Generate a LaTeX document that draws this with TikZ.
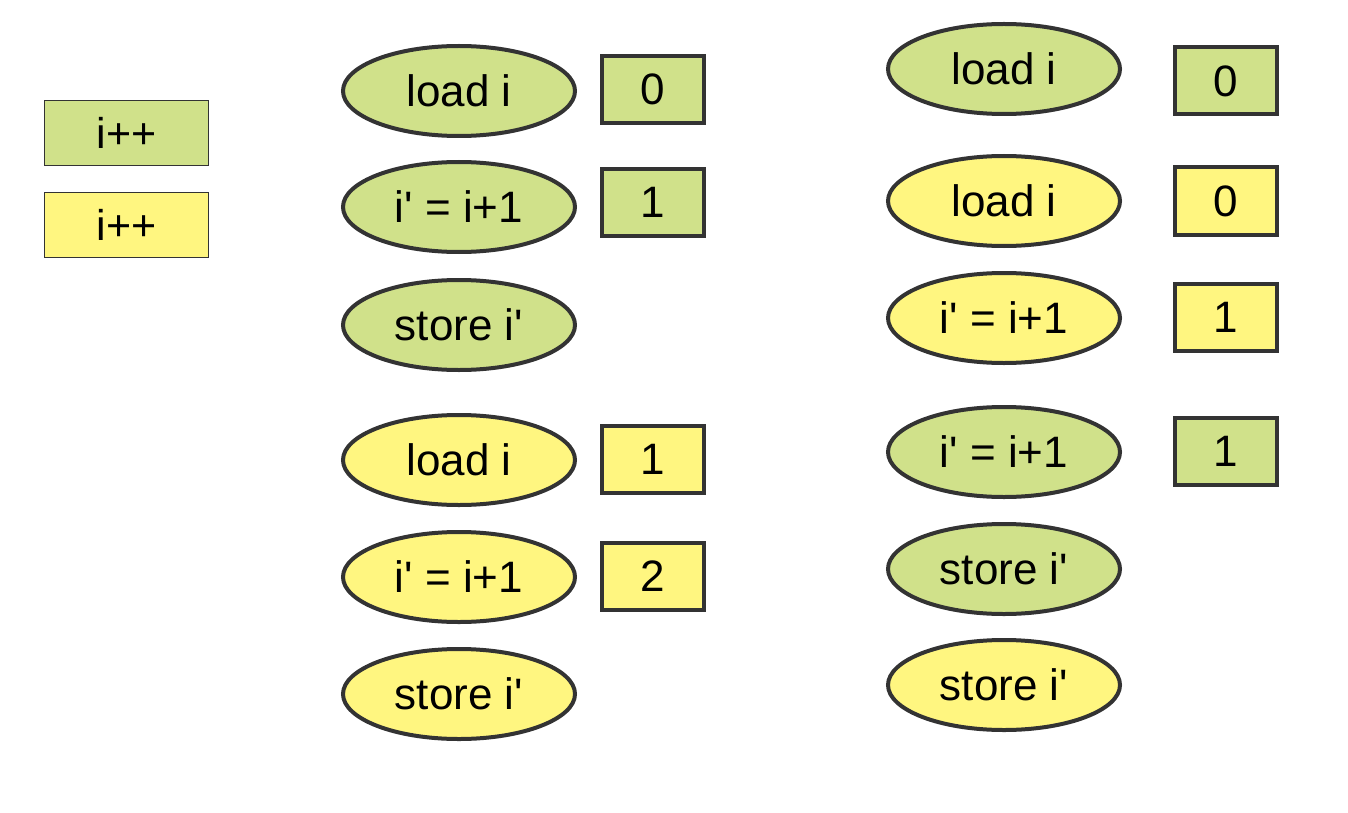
\documentclass[tikz,border=0pt]{standalone}
\usepackage{fontspec}
\setmainfont{Liberation Sans}
\usetikzlibrary{shapes.geometric}
\definecolor{gfill}{RGB}{208,225,138}
\definecolor{yfill}{RGB}{255,246,128}
\definecolor{edge}{RGB}{51,51,51}
\newcommand{\q}{\textquotesingle}
\tikzset{
  op/.style={ellipse, draw=edge, line width=4pt, minimum width=232pt, minimum height=90pt, inner sep=0pt, font=\fontsize{44}{48}\selectfont},
  val/.style={rectangle, draw=edge, line width=4pt, minimum width=102pt, minimum height=67pt, inner sep=0pt, font=\fontsize{44}{48}\selectfont},
  legend/.style={rectangle, draw=edge, line width=1.8pt, minimum width=164pt, minimum height=65pt, inner sep=0pt, font=\fontsize{43}{46}\selectfont},
  gr/.style={fill=gfill},
  ye/.style={fill=yfill}
}
\begin{document}
\begin{tikzpicture}[x=1pt,y=-1pt]
\useasboundingbox (0,0) rectangle (1348,813);
% legend
\node[legend,gr] (lg) at (126.5,133) {i++};
\node[legend,ye] (ly) at (126.5,225) {i++};
% middle column
\node[op,gr] (m1) at (459,91) {load i};
\node[op,gr] (m2) at (459,207) {i\q{} = i+1};
\node[op,gr] (m3) at (459,325) {store i\q};
\node[op,ye] (m4) at (459,460) {load i};
\node[op,ye] (m5) at (459,577) {i\q{} = i+1};
\node[op,ye] (m6) at (459,694) {store i\q};
\node[val,gr] (v1) at (653,89.5) {0};
\node[val,gr] (v2) at (653,202.5) {1};
\node[val,ye] (v3) at (653,459.5) {1};
\node[val,ye] (v4) at (653,576.5) {2};
% right column
\node[op,gr] (r1) at (1004,69) {load i};
\node[op,ye] (r2) at (1004,201) {load i};
\node[op,ye] (r3) at (1004,318) {i\q{} = i+1};
\node[op,gr] (r4) at (1004,452) {i\q{} = i+1};
\node[op,gr] (r5) at (1004,569) {store i\q};
\node[op,ye] (r6) at (1004,685) {store i\q};
\node[val,gr] (w1) at (1225.5,81) {0};
\node[val,ye] (w2) at (1225.5,201) {0};
\node[val,ye] (w3) at (1225.5,317) {1};
\node[val,gr] (w4) at (1225.5,451.5) {1};
\end{tikzpicture}
\end{document}
